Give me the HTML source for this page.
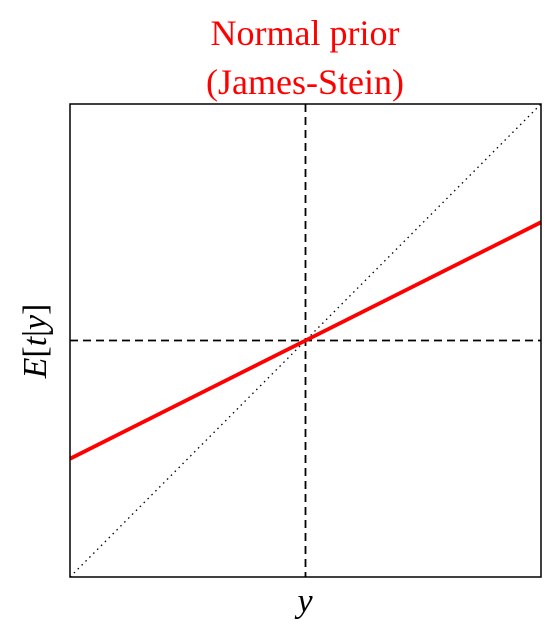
<!DOCTYPE html>
<html><head><meta charset="utf-8">
<style>
body{margin:0;background:#fff;width:545px;height:632px;overflow:hidden}
svg{display:block}
</style></head><body>
<svg width="545" height="632" xmlns="http://www.w3.org/2000/svg">
<text x="305" y="45" text-anchor="middle" font-family="Liberation Serif, serif" font-size="36" fill="#ff0000">Normal prior</text>
<text x="305" y="94" text-anchor="middle" font-family="Liberation Serif, serif" font-size="36" fill="#ff0000">(James-Stein)</text>
<g id="plot"></g>
<text x="305" y="612" text-anchor="middle" font-family="Liberation Serif, serif" font-style="italic" font-size="34">y</text>
<text transform="translate(46,341) rotate(-90)" text-anchor="middle" font-family="Liberation Serif, serif" font-size="34"><tspan font-style="italic">E</tspan>[<tspan font-style="italic">t</tspan>|<tspan font-style="italic">y</tspan>]</text>
</svg>
<script>
const xDomain=[-1,1];
const yDomain=[-1,1];
const shrinkSlope=[0.5];
const shrinkIntercept=[0];
const L=70,R=541,T=104,B=577;
const sx=v=>L+(v-xDomain[0])/(xDomain[1]-xDomain[0])*(R-L);
const sy=v=>B-(v-yDomain[0])/(yDomain[1]-yDomain[0])*(B-T);
const g=document.getElementById('plot');
const NS='http://www.w3.org/2000/svg';
function line(x1,y1,x2,y2,attrs,name){
  const l=document.createElementNS(NS,'line');
  l.setAttribute('x1',x1);l.setAttribute('y1',y1);l.setAttribute('x2',x2);l.setAttribute('y2',y2);
  for(const k in attrs)l.setAttribute(k,attrs[k]);
  
  
  g.appendChild(l);
}
line(sx(xDomain[0]),sy(yDomain[0]),sx(xDomain[1]),sy(yDomain[1]),{stroke:'#000','stroke-width':1.3,'stroke-dasharray':'1.5 4'},'identity-line');
line(sx(0),T,sx(0),B,{stroke:'#000','stroke-width':1.8,'stroke-dasharray':'8 5'},'vertical-zero-line');
line(L,sy(0),R,sy(0),{stroke:'#000','stroke-width':1.8,'stroke-dasharray':'8 5'},'horizontal-zero-line');
const f=x=>shrinkSlope[0]*x+shrinkIntercept[0];
line(sx(xDomain[0]),sy(f(xDomain[0])),sx(xDomain[1]),sy(f(xDomain[1])),{stroke:'#ff0000','stroke-width':3.8},'james-stein-line');
const r=document.createElementNS(NS,'rect');
r.setAttribute('x',L);r.setAttribute('y',T);r.setAttribute('width',R-L);r.setAttribute('height',B-T);
r.setAttribute('fill','none');r.setAttribute('stroke','#000');r.setAttribute('stroke-width',1.5);


g.appendChild(r);
</script>
</body></html>
